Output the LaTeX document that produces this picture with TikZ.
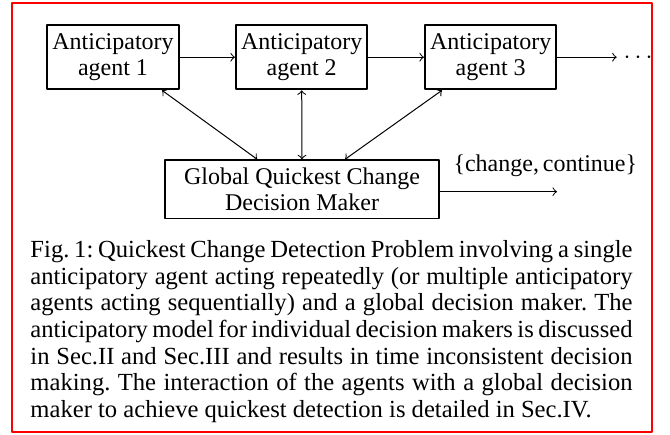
\documentclass[tikz,border=0pt]{standalone}
\usepackage{fontspec}
\setmainfont{Liberation Serif}
\begin{document}
\begin{tikzpicture}[x=0.4pt,y=-0.4pt,line join=round,>=to,
		font=\fontsize{9.6}{10.6}\selectfont,
		agentbox/.style={draw,thick,align=center,minimum width=52.6pt,minimum height=25.7pt,inner sep=1pt},
		deciderbox/.style={draw,semithick,align=center,minimum width=109.6pt,minimum height=23.3pt,inner sep=1pt}]
	\useasboundingbox (0,0) rectangle (670,434);
	\draw[red,line width=0.8pt] (12,3) rectangle (652,432);
	% agents in a row
	\foreach \i/\x in {1/113,2/301.7,3/490.7}
		\node[agentbox] (a\i) at (\x,57.2) {Anticipatory\\agent \i};
	\node[deciderbox] (gdm) at (302,189.2) {Global Quickest Change\\Decision Maker};
	\draw[->] (a1) -- (a2);
	\draw[->] (a2) -- (a3);
	\coordinate (more) at (616.7,57.2);
	\draw[->] (a3) -- (more);
	\node[anchor=base west,inner sep=0] (dots) at (623,63.2) {$\cdots$};
	% links to the global decision maker
	\draw[<->] ([xshift=-7.1pt]a1.south east) -- ([xshift=-17.9pt]gdm.north);
	\draw[<->] (a2.south) -- (gdm.north);
	\draw[<->] ([xshift=7.2pt]a3.south west) -- ([xshift=17.2pt]gdm.north);
	\coordinate (decided) at (557,191.7);
	\draw[->] (gdm.east |- decided) -- (decided);
	\node[anchor=base west,inner sep=0] (verdict) at (453,171) {\{change,\,continue\}};
	% caption
	\node[anchor=base west,inner sep=0,text width=240.8pt,align=justify,
		font=\fontsize{9.84}{10.68}\selectfont] (cap) at (30,257.3)
		{\frenchspacing\hyphenpenalty=10000\relax
		Fig.~1: Quickest Change Detection Problem involving a single\linebreak
		anticipatory agent acting repeatedly (or multiple anticipatory\linebreak
		agents acting sequentially) and a global decision maker. The\linebreak
		anticipatory model for individual decision makers is discussed\linebreak
		in Sec.II and Sec.III and results in time inconsistent decision\linebreak
		making. The interaction of the agents with a global decision\linebreak
		maker to achieve quickest detection is detailed in Sec.IV.};
\end{tikzpicture}
\end{document}
